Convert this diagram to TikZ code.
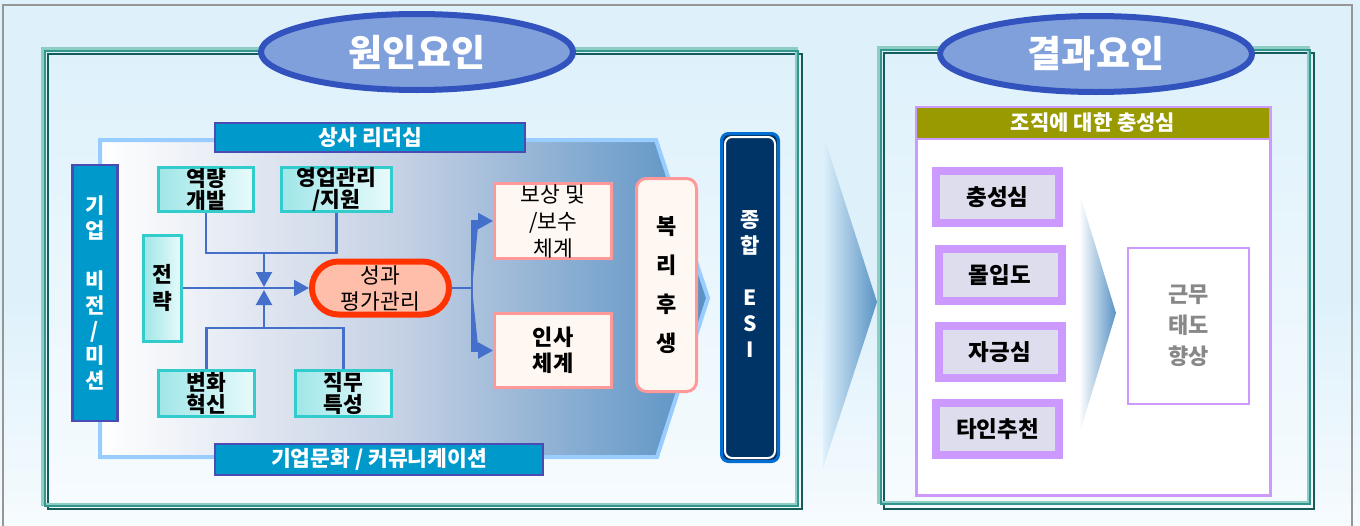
\documentclass[tikz,border=0pt]{standalone}
\usepackage{fontspec}
\setmainfont{Noto Sans CJK KR}
\usetikzlibrary{arrows.meta,shapes.geometric,shapes.misc}
\definecolor{bgblue}{RGB}{222,241,251}
\definecolor{bglight}{RGB}{246,251,254}
\definecolor{framegray}{RGB}{150,150,150}
\definecolor{teallight}{RGB}{140,205,196}
\definecolor{tealmid}{RGB}{50,150,142}
\definecolor{tealdark}{RGB}{20,92,90}
\definecolor{ellfill}{RGB}{128,160,220}
\definecolor{elldraw}{RGB}{50,82,190}
\definecolor{barfill}{RGB}{0,153,204}
\definecolor{bardraw}{RGB}{75,75,180}
\definecolor{chevdraw}{RGB}{153,204,255}
\definecolor{chevright}{RGB}{88,145,195}
\definecolor{chevmid}{RGB}{196,208,228}
\definecolor{tealbd}{RGB}{51,204,204}
\definecolor{tealL}{RGB}{160,230,232}
\definecolor{tealR}{RGB}{232,250,251}
\definecolor{salmon}{RGB}{255,190,170}
\definecolor{redbd}{RGB}{255,51,0}
\definecolor{pinkbd}{RGB}{255,153,153}
\definecolor{cream}{RGB}{255,248,242}
\definecolor{navy}{RGB}{0,51,102}
\definecolor{navybd}{RGB}{0,110,210}
\definecolor{conncol}{RGB}{68,112,204}
\definecolor{wedge}{RGB}{90,147,196}
\definecolor{olive}{RGB}{153,153,0}
\definecolor{lav}{RGB}{204,153,255}
\definecolor{lavin}{RGB}{221,221,238}
\definecolor{graytxt}{RGB}{136,136,136}
\begin{document}
\begin{tikzpicture}[x=1pt,y=-1pt,
  ell/.style={ellipse, draw=elldraw, fill=ellfill, line width=6, minimum width=312, minimum height=76, text=white, font=\bfseries\fontsize{37}{40}\selectfont},
  bar/.style={draw=bardraw, fill=barfill, line width=2.5, inner sep=0, text=white, font=\bfseries\fontsize{21.5}{23}\selectfont, align=center},
  tealbox/.style={draw=tealbd, line width=3, left color=tealL, right color=tealR, inner sep=0, align=center, font=\bfseries\fontsize{21.5}{22.5}\selectfont},
  pinkbox/.style={draw=pinkbd, line width=3, fill=cream, inner sep=0, align=center},
  purplebox/.style={draw=lav, line width=8, fill=lavin, inner sep=0, minimum width=123, minimum height=52, font=\bfseries\fontsize{22.5}{24}\selectfont},
  conn/.style={draw=conncol, line width=2.2},
  tip/.style={-{Triangle[length=15pt,width=16pt]}},
  frameL/.style={teallight, line width=3},
  frameM/.style={tealmid, line width=2},
  frameD/.style={tealdark, line width=2.5}
]
\useasboundingbox (0,0) rectangle (1360,525);
% background
\fill[bgblue] (0,0) rectangle (1360,525);
\shade[top color=bgblue, bottom color=bglight] (0,300) rectangle (1360,525);
\draw[framegray, line width=1.5] (3,5) rectangle (1352,545);
% panel interiors
\shade[top color=bgblue, bottom color=bglight] (47,53) rectangle (797,505);
\shade[top color=bgblue, bottom color=bglight] (884,52) rectangle (1309,503);
% left panel frame
\draw[frameD] (48,54) rectangle (802,509);
\draw[frameL] (42,48) rectangle (796,504);
\draw[frameM] (45,51) rectangle (798,506);
% right panel frame
\draw[frameD] (884,53) rectangle (1314,509);
\draw[frameL] (878,47) rectangle (1308,502);
\draw[frameM] (881,50) rectangle (1310,504);
% ellipses
\node[ell] (cause) at (417,52) {원인요인};
\node[ell] (result) at (1096,54) {결과요인};
% chevron
\path[draw=chevdraw, line width=4, left color=white, right color=chevright, middle color=chevmid]
  (100,140) -- (656,140) -- (708,298) -- (657,457) -- (100,457) -- cycle;
% bars
\node[bar, minimum width=310, minimum height=29] (lead) at (370,137.5) {상사 리더십};
\node[bar, minimum width=328, minimum height=31] (culture) at (379,459.5) {기업문화 / 커뮤니케이션};
\node[bar, minimum width=45, minimum height=256, font=\bfseries\fontsize{21}{25}\selectfont] (vision) at (95,293) {기\\업\\[25pt]비\\전\\/\\미\\션};
% teal boxes
\node[tealbox, minimum width=95, minimum height=44] (dev) at (206,189.5) {역량\\개발};
\node[tealbox, minimum width=110, minimum height=44] (sales) at (336.5,189.5) {영업관리\\/지원};
\node[tealbox, minimum width=38, minimum height=106, font=\bfseries\fontsize{21.5}{27}\selectfont] (strat) at (162.5,288) {전\\략};
\node[tealbox, minimum width=96, minimum height=46] (change) at (206.5,393.5) {변화\\혁신};
\node[tealbox, minimum width=96, minimum height=46] (job) at (343.5,393.5) {직무\\특성};
% performance pill
\node[rounded rectangle, draw=redbd, fill=salmon, line width=6, minimum width=137, minimum height=53, inner sep=0, align=center, font=\fontsize{21.5}{26}\selectfont] (perf) at (380.5,288) {성과\\평가관리};
% pink boxes
\node[pinkbox, minimum width=117, minimum height=75, font=\fontsize{21.5}{27}\selectfont] (comp) at (553,221) {보상 및\\/보수\\체계};
\node[pinkbox, minimum width=117, minimum height=74, font=\bfseries\fontsize{22}{26}\selectfont] (hr) at (553,350.5) {인사\\체계};
\node[pinkbox, rounded corners=10, minimum width=60, minimum height=213, font=\bfseries\fontsize{22}{39}\selectfont] (welfare) at (666.5,285) {복\\리\\후\\생};
% ESI box
\node[draw=navybd, fill=navy, line width=3, rounded corners=7, minimum width=57, minimum height=328, inner sep=0] (esi) at (750,297.5) {};
\draw[white, line width=2, rounded corners=7] ([shift={(5,5)}]esi.north west) rectangle ([shift={(-5,-5)}]esi.south east);
\node[text=white, align=center, font=\bfseries\fontsize{21}{26}\selectfont] (esitext) at ([yshift=13pt]esi.center) {종\\합\\[26pt]E\\S\\I};
% connectors
\coordinate (ytop) at (264,253);
\coordinate (ybot) at (264,328);
\coordinate (jt) at (264,287);
\coordinate (jb) at (264,290);
\coordinate (fork) at (472,288);
\draw[conn] (dev.south) |- (ytop) -| (sales.south);
\draw[conn, tip, fill=conncol] (ytop) -- (jt);
\draw[conn] (change.north) |- (ybot) -| (job.north);
\draw[conn, tip, fill=conncol] (ybot) -- (jb);
\draw[conn, tip, fill=conncol] (strat.east) -- (perf.west);
\draw[conn] (perf.east) -- (fork);
\draw[conn, tip, fill=conncol] (fork) |- (comp.west);
\draw[conn, tip, fill=conncol] (fork) |- (hr.west);
% big wedge between panels
\shade[left color=bgblue, right color=wedge] (823,134) -- (877,302) -- (823,468) -- cycle;
% right panel content
\node[draw=lav, line width=3, fill=white, minimum width=354, minimum height=388, inner sep=0] (rframe) at (1093,301) {};
\node[draw=lav, line width=2, fill=olive, minimum width=354, minimum height=32, inner sep=0, text=white, font=\bfseries\fontsize{21}{22}\selectfont] (loyal) at (1093,122.5) {조직에 대한 충성심};
\node[purplebox] (p1) at (997.5,197) {충성심};
\node[purplebox] (p2) at (1000,275) {몰입도};
\node[purplebox] (p3) at (1000,352) {자긍심};
\node[purplebox] (p4) at (997.5,429) {타인추천};
\shade[left color=white, right color=wedge] (1079,192) -- (1116,313) -- (1079,435) -- cycle;
\node[draw=lav, line width=2, fill=white, minimum width=121, minimum height=156, inner sep=0, text=graytxt, align=center, font=\bfseries\fontsize{22}{31}\selectfont] (attitude) at (1188.5,326) {근무\\태도\\향상};
\end{tikzpicture}
\end{document}
